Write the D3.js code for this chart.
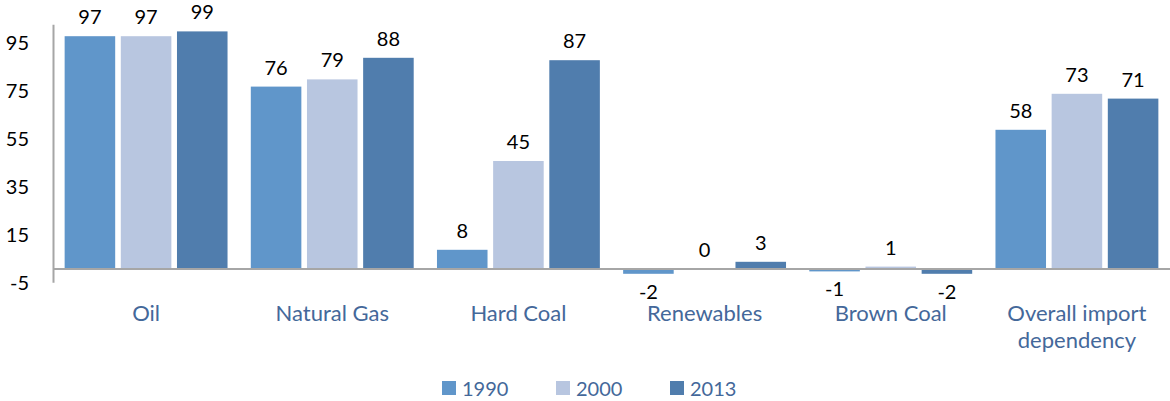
<!DOCTYPE html>
<html><head><meta charset="utf-8">
<script src="https://cdn.jsdelivr.net/npm/d3@7"></script>
<style>body{margin:0;background:#fff}svg{display:block}</style>
</head><body>
<svg id="c" width="1170" height="401"></svg>
<script>
const categories = ["Oil", "Natural Gas", "Hard Coal", "Renewables", "Brown Coal", "Overall import dependency"];
const seriesNames = ["1990", "2000", "2013"];
const values1990 = [97, 76, 8, -2, -1, 58];
const values2000 = [97, 79, 45, 0, 1, 73];
const values2013 = [99, 88, 87, 3, -2, 71];
const yTicks = [-5, 15, 35, 55, 75, 95];
const colors = ["#6096CA", "#B8C6E0", "#507DAD"];

const seriesValues = [values1990, values2000, values2013];
const svg = d3.select("#c");
const font = "Lato, 'Liberation Sans', sans-serif";
const left = 53, right = 1170;
const y = d3.scaleLinear().domain([-5.5, 102]).range([282.2, 24.2]);
const x0 = d3.scaleBand().domain(categories).range([left, right]).paddingInner(0.125).paddingOuter(0.0625);
const x1 = d3.scaleBand().domain(seriesNames).range([0, x0.bandwidth()]).paddingInner(0.1);

// bars
categories.forEach((c, ci) => {
  seriesNames.forEach((s, si) => {
    const v = seriesValues[si][ci];
    const bx = x0(c) + x1(s);
    svg.append("rect")
      .attr("x", bx).attr("width", x1.bandwidth())
      .attr("y", y(Math.max(0, v))).attr("height", Math.abs(y(v) - y(0)))
      .attr("fill", colors[si]);
    svg.append("text")
      .attr("x", bx + x1.bandwidth() / 2)
      .attr("y", v >= 0 ? y(v) - 12 : y(v) + 25)
      .attr("text-anchor", "middle")
      .attr("font-family", font).attr("font-size", 20).attr("fill", "#000")
      .text(String(v));
  });
});

// axes
const yAxis = d3.axisLeft(y).tickValues(yTicks).tickSize(0).tickPadding(24).tickFormat(d => String(d));
const gy = svg.append("g").attr("transform", `translate(${left},0)`).call(yAxis);
gy.select(".domain").attr("stroke", "#A6A6A6").attr("stroke-width", 2);
gy.selectAll("text").attr("font-family", font).attr("font-size", 20).attr("fill", "#000").attr("dy", "0.4em");

svg.append("line").attr("x1", left).attr("x2", right).attr("y1", y(0)).attr("y2", y(0))
  .attr("stroke", "#A6A6A6").attr("stroke-width", 2);

// category labels
categories.forEach(c => {
  const cx = x0(c) + x0.bandwidth() / 2;
  const lines = c === "Overall import dependency" ? ["Overall import", "dependency"] : [c];
  lines.forEach((t, i) => {
    svg.append("text").attr("x", cx).attr("y", 321 + i * 27)
      .attr("text-anchor", "middle").attr("font-family", font).attr("font-size", 22)
      .attr("fill", "#44689A").text(t);
  });
});

// legend
const legX = [442, 556, 670];
seriesNames.forEach((s, i) => {
  svg.append("rect").attr("x", legX[i]).attr("y", 381).attr("width", 14).attr("height", 14).attr("fill", colors[i]);
  svg.append("text").attr("x", legX[i] + 20).attr("y", 396)
    .attr("font-family", font).attr("font-size", 20).attr("fill", "#44689A").text(s);
});
</script>
</body></html>
